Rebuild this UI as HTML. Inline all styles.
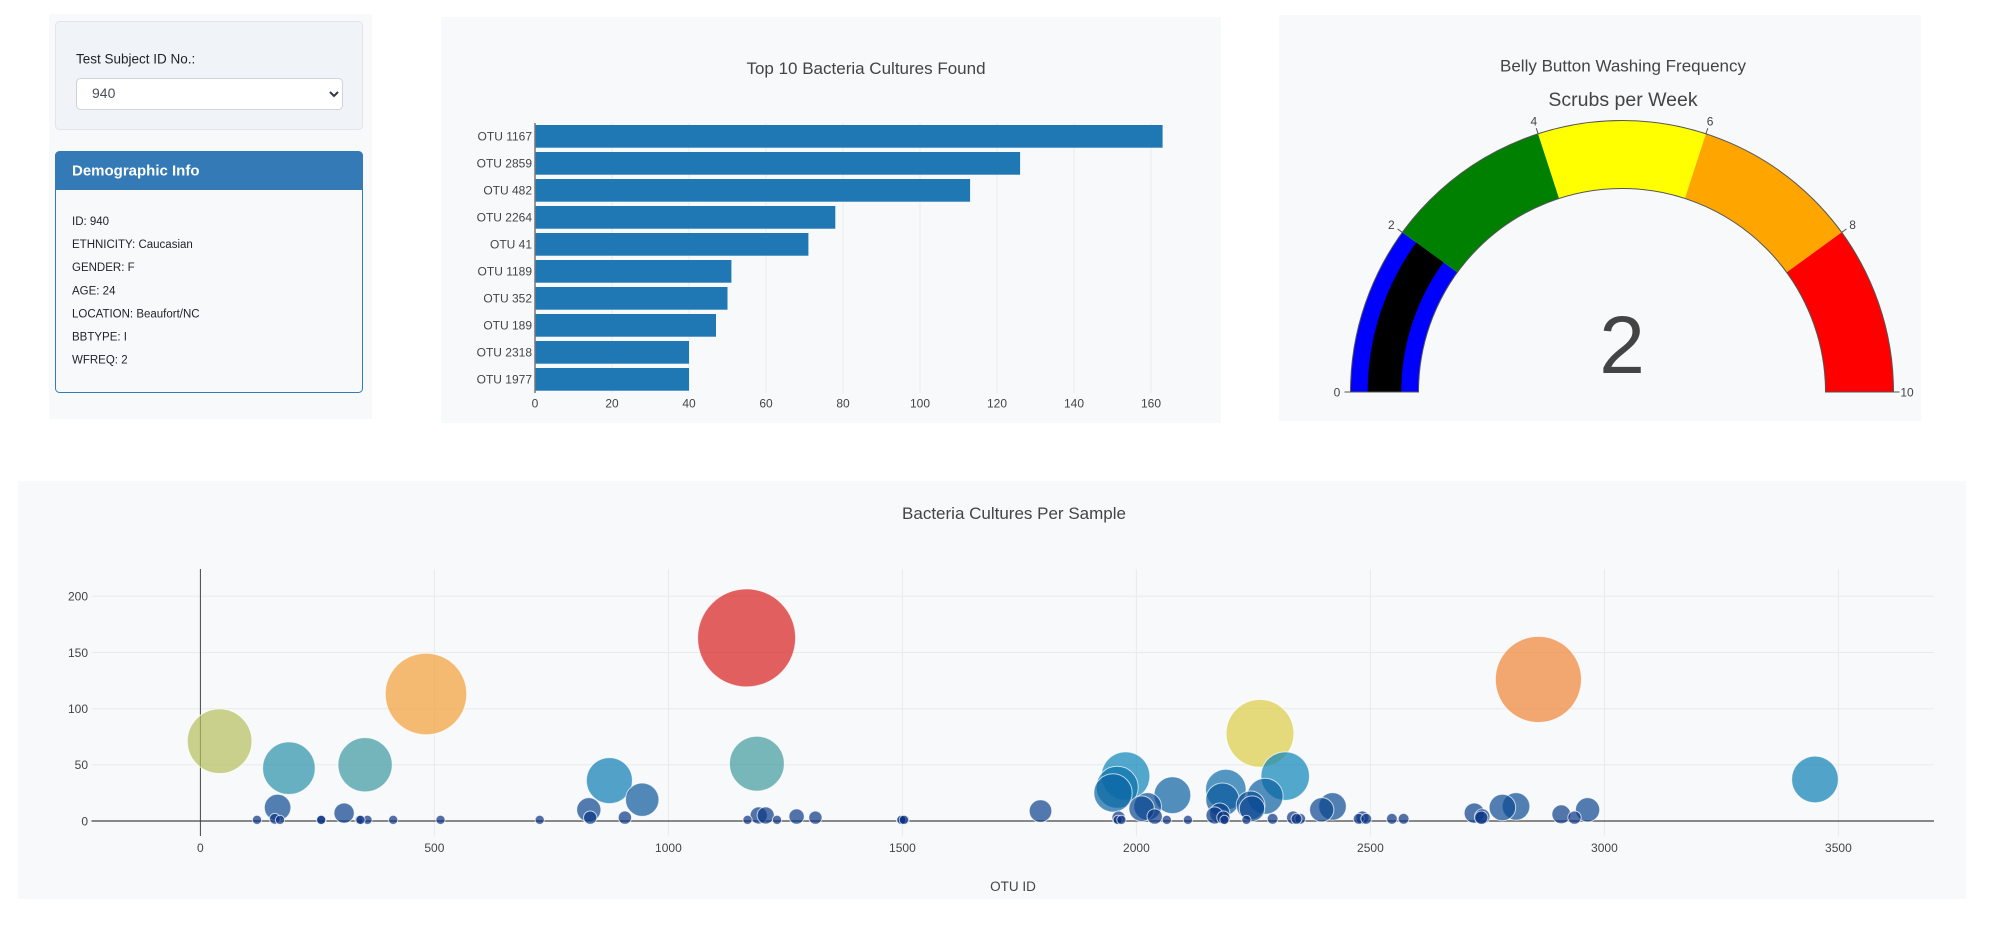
<!DOCTYPE html>
<html><head><meta charset="utf-8">
<style>
html,body{margin:0;padding:0;background:#fff;width:2000px;height:931px;overflow:hidden}
svg{position:absolute;left:0;top:0}
text{font-family:"Liberation Sans",Arial,sans-serif}
.t{fill:#444}
.b{fill-opacity:.7;stroke:#fff;stroke-opacity:.7;stroke-width:1}
.g{stroke:#eaeaea;stroke-width:1}
</style></head>
<body>
<svg width="2000" height="931" viewBox="0 0 2000 931" xmlns="http://www.w3.org/2000/svg">
<!-- left column -->
<rect x="49" y="14" width="323" height="405" fill="#f8f9fa"/>
<rect x="55.5" y="21.5" width="307" height="108" rx="4" fill="#f0f3f7" stroke="#e1e4e8"/>
<text x="76" y="63.3" font-size="13.5" fill="#212529">Test Subject ID No.:</text>
<rect x="76.5" y="78.5" width="266" height="31" rx="4" fill="#fff" stroke="#ced4da"/>
<text x="92" y="98" font-size="14" fill="#495057">940</text>
<polyline points="330,92 334,96 338,92" fill="none" stroke="#343a40" stroke-width="2"/>
<rect x="55.5" y="151.5" width="307" height="241" rx="4" fill="#f8f9fa" stroke="#337ab7"/>
<path d="M55.5,190 V155.5 a4,4 0 0 1 4,-4 H358.5 a4,4 0 0 1 4,4 V190 Z" fill="#337ab7"/>
<text x="72" y="175.5" font-size="15" font-weight="bold" fill="#fff">Demographic Info</text>
<g font-size="11.5" fill="#212529">
<text x="72" y="225">ID: 940</text>
<text x="72" y="248.1">ETHNICITY: Caucasian</text>
<text x="72" y="271.2">GENDER: F</text>
<text x="72" y="294.3">AGE: 24</text>
<text x="72" y="317.4">LOCATION: Beaufort/NC</text>
<text x="72" y="340.5">BBTYPE: I</text>
<text x="72" y="363.6">WFREQ: 2</text>
</g>

<!-- bar chart panel -->
<rect x="441" y="17" width="780" height="406" fill="#f8f9fa"/>
<text x="866" y="74" font-size="17" class="t" text-anchor="middle">Top 10 Bacteria Cultures Found</text>
<g class="g">
<line x1="612" y1="123" x2="612" y2="393"/><line x1="689" y1="123" x2="689" y2="393"/>
<line x1="766" y1="123" x2="766" y2="393"/><line x1="843" y1="123" x2="843" y2="393"/>
<line x1="920" y1="123" x2="920" y2="393"/><line x1="997" y1="123" x2="997" y2="393"/>
<line x1="1074" y1="123" x2="1074" y2="393"/><line x1="1151" y1="123" x2="1151" y2="393"/>
</g>
<g fill="#1f77b4">
<rect x="535" y="125" width="627.6" height="22.7"/>
<rect x="535" y="152" width="485.1" height="22.7"/>
<rect x="535" y="179" width="435.1" height="22.7"/>
<rect x="535" y="206" width="300.3" height="22.7"/>
<rect x="535" y="233" width="273.4" height="22.7"/>
<rect x="535" y="260" width="196.4" height="22.7"/>
<rect x="535" y="287" width="192.5" height="22.7"/>
<rect x="535" y="314" width="181.0" height="22.7"/>
<rect x="535" y="341" width="154.0" height="22.7"/>
<rect x="535" y="368" width="154.0" height="22.7"/>
</g>
<line x1="535" y1="123" x2="535" y2="393" stroke="#777" stroke-width="1.5"/>
<g font-size="12" class="t" text-anchor="end">
<text x="532" y="140.6">OTU 1167</text>
<text x="532" y="167.6">OTU 2859</text>
<text x="532" y="194.6">OTU 482</text>
<text x="532" y="221.6">OTU 2264</text>
<text x="532" y="248.6">OTU 41</text>
<text x="532" y="275.6">OTU 1189</text>
<text x="532" y="302.6">OTU 352</text>
<text x="532" y="329.6">OTU 189</text>
<text x="532" y="356.6">OTU 2318</text>
<text x="532" y="383.6">OTU 1977</text>
</g>
<g font-size="12" class="t" text-anchor="middle">
<text x="535" y="407.3">0</text><text x="612" y="407.3">20</text><text x="689" y="407.3">40</text>
<text x="766" y="407.3">60</text><text x="843" y="407.3">80</text><text x="920" y="407.3">100</text>
<text x="997" y="407.3">120</text><text x="1074" y="407.3">140</text><text x="1151" y="407.3">160</text>
</g>

<!-- gauge panel -->
<rect x="1279" y="15" width="642" height="406" fill="#f8f9fa"/>
<text x="1623" y="71.5" font-size="17" class="t" text-anchor="middle">Belly Button Washing Frequency</text>
<text x="1623" y="106" font-size="19.5" class="t" text-anchor="middle">Scrubs per Week</text>
<path d="M1350.5,392 A271.5,271.5 0 0 1 1402.35,232.42 L1457.36,272.38 A203.5,203.5 0 0 0 1418.5,392 Z" fill="#0000ff"/>
<path d="M1402.35,232.42 A271.5,271.5 0 0 1 1538.10,133.79 L1559.11,198.46 A203.5,203.5 0 0 0 1457.36,272.38 Z" fill="#008000"/>
<path d="M1538.10,133.79 A271.5,271.5 0 0 1 1705.90,133.79 L1684.89,198.46 A203.5,203.5 0 0 0 1559.11,198.46 Z" fill="#ffff00"/>
<path d="M1705.90,133.79 A271.5,271.5 0 0 1 1841.65,232.42 L1786.64,272.38 A203.5,203.5 0 0 0 1684.89,198.46 Z" fill="#ffa500"/>
<path d="M1841.65,232.42 A271.5,271.5 0 0 1 1893.5,392 L1825.5,392 A203.5,203.5 0 0 0 1786.64,272.38 Z" fill="#ff0000"/>
<path d="M1367.7,392 A254.3,254.3 0 0 1 1416.27,242.53 L1443.45,262.27 A220.7,220.7 0 0 0 1401.3,392 Z" fill="#000"/>
<path d="M1350.5,392 A271.5,271.5 0 0 1 1893.5,392 L1825.5,392 A203.5,203.5 0 0 0 1418.5,392 Z" fill="none" stroke="#555" stroke-width="1"/>
<g stroke="#555" stroke-width="1">
<line x1="1350.5" y1="392" x2="1344.5" y2="392"/>
<line x1="1402.35" y1="232.42" x2="1397.5" y2="228.9"/>
<line x1="1538.10" y1="133.79" x2="1536.2" y2="128.1"/>
<line x1="1705.90" y1="133.79" x2="1707.8" y2="128.1"/>
<line x1="1841.65" y1="232.42" x2="1846.5" y2="228.9"/>
<line x1="1893.5" y1="392" x2="1899.5" y2="392"/>
</g>
<g font-size="12" class="t" text-anchor="middle">
<text x="1337" y="396.3">0</text>
<text x="1391.4" y="228.8">2</text>
<text x="1533.9" y="125.3">4</text>
<text x="1710.1" y="125.3">6</text>
<text x="1852.6" y="228.8">8</text>
<text x="1907" y="396.3">10</text>
</g>
<text x="1622" y="373" font-size="82" class="t" text-anchor="middle">2</text>

<!-- bubble panel -->
<rect x="18" y="481" width="1948" height="418" fill="#f8f9fa"/>
<text x="1014" y="519" font-size="17" class="t" text-anchor="middle">Bacteria Cultures Per Sample</text>
<g class="g">
<line x1="91.5" y1="764.8" x2="1934" y2="764.8"/>
<line x1="91.5" y1="708.7" x2="1934" y2="708.7"/>
<line x1="91.5" y1="652.5" x2="1934" y2="652.5"/>
<line x1="91.5" y1="596.3" x2="1934" y2="596.3"/>
<line x1="434.4" y1="569" x2="434.4" y2="836"/>
<line x1="668.4" y1="569" x2="668.4" y2="836"/>
<line x1="902.4" y1="569" x2="902.4" y2="836"/>
<line x1="1136.4" y1="569" x2="1136.4" y2="836"/>
<line x1="1370.4" y1="569" x2="1370.4" y2="836"/>
<line x1="1604.4" y1="569" x2="1604.4" y2="836"/>
<line x1="1838.4" y1="569" x2="1838.4" y2="836"/>
</g>
<line x1="200.4" y1="569" x2="200.4" y2="836" stroke="#444" stroke-width="1"/>
<line x1="91.5" y1="821" x2="1934" y2="821" stroke="#444" stroke-width="1.3"/>
<g font-size="12" class="t" text-anchor="end">
<text x="88" y="825.3">0</text>
<text x="88" y="769.1">50</text>
<text x="88" y="713">100</text>
<text x="88" y="656.8">150</text>
<text x="88" y="600.6">200</text>
</g>
<g font-size="12" class="t" text-anchor="middle">
<text x="200.4" y="852">0</text><text x="434.4" y="852">500</text><text x="668.4" y="852">1000</text>
<text x="902.4" y="852">1500</text><text x="1136.4" y="852">2000</text><text x="1370.4" y="852">2500</text>
<text x="1604.4" y="852">3000</text><text x="1838.4" y="852">3500</text>
</g>
<text x="1013" y="891" font-size="13.5" class="t" text-anchor="middle">OTU ID</text>

<g class="b">
<circle cx="746.6" cy="637.9" r="49" fill="#d91e1e"/>
<circle cx="1538.4" cy="679.4" r="43.05" fill="#f08536"/>
<circle cx="426.0" cy="694.0" r="40.77" fill="#f29f38"/>
<circle cx="1260.0" cy="733.4" r="33.87" fill="#dbcc45"/>
<circle cx="219.6" cy="741.2" r="32.31" fill="#b3bf5b"/>
<circle cx="756.9" cy="763.7" r="27.39" fill="#409a9c"/>
<circle cx="365.1" cy="764.8" r="27.12" fill="#3b989f"/>
<circle cx="288.9" cy="768.2" r="26.29" fill="#2a92a8"/>
<circle cx="1285.2" cy="776.1" r="24.26" fill="#0a85b8"/>
<circle cx="1125.6" cy="776.1" r="24.26" fill="#0a85b8"/>
<circle cx="1815.0" cy="779.4" r="23.33" fill="#0a7fb4"/>
<circle cx="609.4" cy="780.6" r="23.01" fill="#0a7cb3"/>
<circle cx="1117.2" cy="787.3" r="21.01" fill="#0b70aa"/>
<circle cx="1225.8" cy="789.5" r="20.29" fill="#0b6ca8"/>
<circle cx="1113.0" cy="792.9" r="19.18" fill="#0b65a4"/>
<circle cx="1172.4" cy="795.2" r="18.39" fill="#0b61a1"/>
<circle cx="1265.1" cy="796.3" r="17.99" fill="#0b5fa0"/>
<circle cx="642.2" cy="799.7" r="16.72" fill="#0b599b"/>
<circle cx="1222.5" cy="799.7" r="16.72" fill="#0b599b"/>
<circle cx="1250.6" cy="805.3" r="14.35" fill="#0b4e95"/>
<circle cx="1147.6" cy="806.4" r="13.83" fill="#0b4c93"/>
<circle cx="1332.5" cy="806.4" r="13.83" fill="#0b4c93"/>
<circle cx="1516.0" cy="806.4" r="13.83" fill="#0b4c93"/>
<circle cx="277.6" cy="807.5" r="13.29" fill="#0b4a92"/>
<circle cx="1502.4" cy="807.5" r="13.29" fill="#0b4a92"/>
<circle cx="1252.0" cy="808.6" r="12.72" fill="#0c4891"/>
<circle cx="1141.6" cy="808.6" r="12.72" fill="#0c4891"/>
<circle cx="1321.7" cy="809.8" r="12.13" fill="#0c468f"/>
<circle cx="588.8" cy="809.8" r="12.13" fill="#0c468f"/>
<circle cx="1587.6" cy="809.8" r="12.13" fill="#0c468f"/>
<circle cx="1040.5" cy="811" r="11.3" fill="#0c428d"/>
<circle cx="1474.3" cy="813.1" r="10.15" fill="#0c408b"/>
<circle cx="344.1" cy="813.1" r="10.15" fill="#0c408b"/>
<circle cx="1219.7" cy="813.1" r="10.15" fill="#0c408b"/>
<circle cx="1561.3" cy="814.3" r="9.39" fill="#0c3d8a"/>
<circle cx="758.7" cy="815.4" r="8.58" fill="#0c3b88"/>
<circle cx="1214.6" cy="815.4" r="8.58" fill="#0c3b88"/>
<circle cx="765.7" cy="815.4" r="8.58" fill="#0c3b88"/>
<circle cx="1154.7" cy="816.5" r="7.67" fill="#0c3987"/>
<circle cx="796.6" cy="816.5" r="7.67" fill="#0c3987"/>
<circle cx="1482.3" cy="816.5" r="7.67" fill="#0c3987"/>
<circle cx="1481.3" cy="817.6" r="6.64" fill="#0c3786"/>
<circle cx="815.4" cy="817.6" r="6.64" fill="#0c3786"/>
<circle cx="1118.6" cy="817.6" r="6.64" fill="#0c3786"/>
<circle cx="1223.4" cy="817.6" r="6.64" fill="#0c3786"/>
<circle cx="1293.2" cy="817.6" r="6.64" fill="#0c3786"/>
<circle cx="1574.5" cy="817.6" r="6.64" fill="#0c3786"/>
<circle cx="624.9" cy="817.6" r="6.64" fill="#0c3786"/>
<circle cx="590.2" cy="817.6" r="6.64" fill="#0c3786"/>
<circle cx="1362.4" cy="817.6" r="6.64" fill="#0c3786"/>
<circle cx="1358.7" cy="818.8" r="5.42" fill="#0c3584"/>
<circle cx="1366.2" cy="818.8" r="5.42" fill="#0c3584"/>
<circle cx="1272.6" cy="818.8" r="5.42" fill="#0c3584"/>
<circle cx="274.8" cy="818.8" r="5.42" fill="#0c3584"/>
<circle cx="1403.6" cy="818.8" r="5.42" fill="#0c3584"/>
<circle cx="1300.2" cy="818.8" r="5.42" fill="#0c3584"/>
<circle cx="1296.5" cy="818.8" r="5.42" fill="#0c3584"/>
<circle cx="1391.9" cy="818.8" r="5.42" fill="#0c3584"/>
<circle cx="539.7" cy="819.9" r="4.6" fill="#0c3383"/>
<circle cx="280.0" cy="819.9" r="4.6" fill="#0c3383"/>
<circle cx="904.7" cy="819.9" r="4.6" fill="#0c3383"/>
<circle cx="440.5" cy="819.9" r="4.6" fill="#0c3383"/>
<circle cx="321.6" cy="819.9" r="4.6" fill="#0c3383"/>
<circle cx="747.5" cy="819.9" r="4.6" fill="#0c3383"/>
<circle cx="321.1" cy="819.9" r="4.6" fill="#0c3383"/>
<circle cx="777.0" cy="819.9" r="4.6" fill="#0c3383"/>
<circle cx="901.0" cy="819.9" r="4.6" fill="#0c3383"/>
<circle cx="901.5" cy="819.9" r="4.6" fill="#0c3383"/>
<circle cx="903.8" cy="819.9" r="4.6" fill="#0c3383"/>
<circle cx="393.2" cy="819.9" r="4.6" fill="#0c3383"/>
<circle cx="1246.4" cy="819.9" r="4.6" fill="#0c3383"/>
<circle cx="1117.7" cy="819.9" r="4.6" fill="#0c3383"/>
<circle cx="1121.4" cy="819.9" r="4.6" fill="#0c3383"/>
<circle cx="257.0" cy="819.9" r="4.6" fill="#0c3383"/>
<circle cx="1166.8" cy="819.9" r="4.6" fill="#0c3383"/>
<circle cx="359.5" cy="819.9" r="4.6" fill="#0c3383"/>
<circle cx="1187.9" cy="819.9" r="4.6" fill="#0c3383"/>
<circle cx="1224.4" cy="819.9" r="4.6" fill="#0c3383"/>
<circle cx="367.5" cy="819.9" r="4.6" fill="#0c3383"/>
<circle cx="360.5" cy="819.9" r="4.6" fill="#0c3383"/>
</g>
</svg>
</body></html>
